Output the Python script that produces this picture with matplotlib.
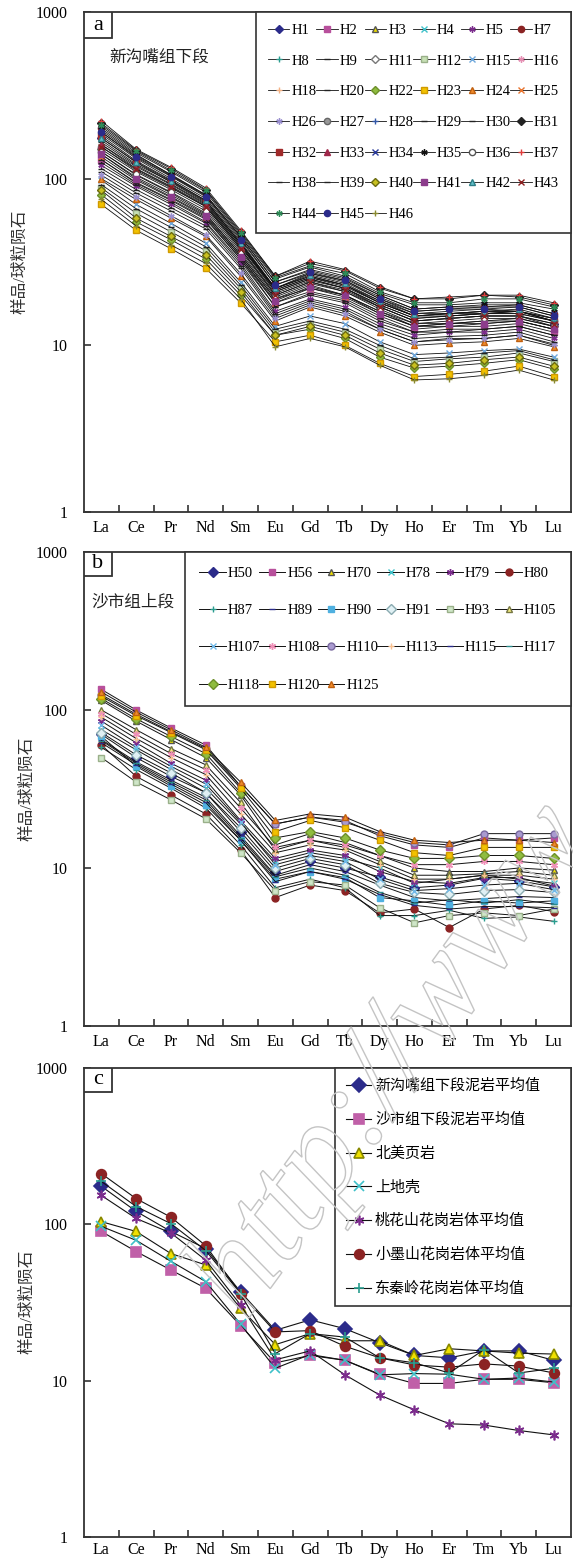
import numpy as np
import matplotlib
matplotlib.use('Agg')
import matplotlib.pyplot as plt
from matplotlib.patches import Rectangle, PathPatch
from matplotlib.textpath import TextPath
from matplotlib.font_manager import FontProperties
from matplotlib.transforms import Affine2D
from matplotlib.ticker import NullLocator

plt.rcParams['font.family'] = ['Liberation Serif', 'Noto Sans CJK SC']

# REE order on the x axis
ree = ['La', 'Ce', 'Pr', 'Nd', 'Sm', 'Eu', 'Gd', 'Tb', 'Dy', 'Ho', 'Er', 'Tm', 'Yb', 'Lu']

# ---------------- panel a : 新沟嘴组下段 ----------------
names_a = ['H1', 'H2', 'H3', 'H4', 'H5', 'H7', 'H8', 'H9', 'H11', 'H12', 'H15', 'H16',
           'H18', 'H20', 'H22', 'H23', 'H24', 'H25', 'H26', 'H27', 'H28', 'H29', 'H30', 'H31',
           'H32', 'H33', 'H34', 'H35', 'H36', 'H37', 'H38', 'H39', 'H40', 'H41', 'H42', 'H43',
           'H44', 'H45', 'H46']
vals_a = [
    [175, 125, 95, 72, 40, 21, 25, 22, 17, 14, 14.5, 15, 15, 13.5],
    [130, 95, 75, 58, 33, 18, 21, 19, 15, 12.5, 13, 13, 13.5, 12],
    [160, 118, 92, 70, 39, 22, 27, 24, 19, 15.5, 16, 16.5, 16, 14.5],
    [145, 105, 82, 62, 35, 19, 22, 20, 16, 13, 13.5, 14, 14, 12.5],
    [120, 90, 70, 54, 31, 16, 19, 17, 13.5, 11.5, 12, 12, 12.5, 11],
    [200, 140, 105, 80, 45, 24, 28, 25, 20, 16.5, 17, 17, 17.5, 15.5],
    [185, 132, 100, 76, 42, 22, 26, 23, 18, 15, 15.5, 16, 16, 14],
    [110, 82, 64, 50, 29, 15, 18, 16, 12.5, 10.5, 11, 11, 11.5, 10],
    [150, 110, 86, 66, 37, 20, 24, 21, 17, 14, 14.5, 15, 15, 13],
    [88, 62, 48, 37, 22, 12, 13.5, 12, 9.5, 8, 8.3, 8.5, 9, 8],
    [98, 70, 54, 41, 24, 13, 15, 13.5, 10.5, 8.8, 9, 9.3, 9.5, 8.5],
    [140, 102, 80, 61, 35, 19, 23, 20, 16, 13.5, 13.5, 14, 14.5, 13],
    [170, 122, 96, 73, 41, 22, 26, 23, 18.5, 15, 15.5, 16, 16, 14.5],
    [125, 92, 72, 55, 32, 17, 20, 18, 14, 12, 12, 12.5, 13, 11.5],
    [80, 55, 43, 33, 20, 11.5, 12.5, 11, 8.5, 7.3, 7.5, 7.8, 8.2, 7.2],
    [70, 49, 38, 29, 18, 10.5, 11.5, 10, 7.8, 6.5, 6.7, 7, 7.5, 6.5],
    [100, 75, 58, 45, 26, 14, 17, 15, 12, 10, 10.3, 10.5, 11, 9.8],
    [135, 98, 77, 59, 34, 18, 22, 19.5, 15.5, 13, 13, 13.5, 14, 12.5],
    [105, 78, 60, 46, 27, 14.5, 17.5, 15.5, 12.5, 10.5, 10.8, 11, 11.5, 10.2],
    [155, 112, 88, 68, 38, 20.5, 24.5, 22, 17.5, 14.5, 15, 15.5, 15.5, 14],
    [190, 136, 104, 79, 44, 23, 27, 24.5, 19.5, 16, 16.5, 17, 17, 15],
    [115, 86, 67, 52, 30, 15.5, 18.5, 16.5, 13, 11, 11.3, 11.5, 12, 10.5],
    [165, 120, 93, 71, 40, 21.5, 25.5, 23, 18, 15, 15.5, 15.5, 16, 14],
    [215, 148, 115, 86, 48, 26, 31, 28, 22, 19, 19, 20, 19.5, 17.5],
    [180, 128, 98, 74, 41, 21.5, 25.5, 22.5, 18, 15, 15, 15.5, 16, 14],
    [160, 115, 90, 69, 39, 21, 25, 22, 17.5, 14.5, 15, 15.5, 15.5, 14],
    [195, 138, 106, 80, 45, 24, 28.5, 25.5, 20, 16.5, 17, 17.5, 17.5, 15.5],
    [205, 143, 110, 83, 46, 25, 29.5, 26, 20.5, 17.5, 17.5, 18, 18, 16.5],
    [145, 106, 83, 64, 36, 19.5, 23.5, 21, 16.5, 13.5, 14, 14.5, 14.5, 13],
    [222, 150, 117, 88, 49, 26, 32, 28.5, 22.5, 19, 19.5, 20, 20, 18],
    [130, 94, 74, 57, 33, 17, 20.5, 18.5, 14.5, 12, 12.5, 12.5, 13, 11.5],
    [92, 66, 51, 39, 23, 12.5, 14, 12.5, 10, 8.3, 8.5, 9, 9.3, 8.2],
    [85, 58, 45, 35, 21, 11.5, 13, 11.5, 9, 7.6, 7.8, 8.2, 8.5, 7.5],
    [140, 100, 78, 60, 34, 18.5, 22.5, 20, 15.5, 13, 13.5, 13.5, 14, 12.5],
    [175, 126, 97, 74, 41, 22, 26.5, 23.5, 18.5, 15.5, 15.5, 16, 16.5, 14.5],
    [155, 114, 89, 68, 38, 20, 24, 21.5, 17, 14, 14.5, 15, 15, 13.5],
    [210, 146, 112, 85, 47, 25.5, 30, 27, 21, 18, 18, 19, 19, 17],
    [190, 134, 103, 78, 43, 23, 27.5, 24.5, 19, 16, 16.5, 16.5, 17, 15],
    [75, 52, 40, 31, 19, 9.8, 11, 9.8, 7.6, 6.2, 6.3, 6.6, 7.1, 6.2],
]

# ---------------- panel b : 沙市组上段 ----------------
names_b = ['H50', 'H56', 'H70', 'H78', 'H79', 'H80', 'H87', 'H89', 'H90', 'H91', 'H93', 'H105',
           'H107', 'H108', 'H110', 'H113', 'H115', 'H117', 'H118', 'H120', 'H125']
vals_b = [
    [70, 50, 38, 30, 17, 9.5, 11, 10, 8.8, 7.5, 7.8, 8.6, 8.3, 7.6],
    [135, 100, 77, 60, 33, 19, 21, 20, 16, 14, 13.5, 15.5, 15, 15.5],
    [115, 85, 65, 50, 29, 14, 16.5, 14.5, 12, 10, 9.5, 9.5, 10, 9.7],
    [75, 56, 42, 32, 19, 11, 12.5, 11.5, 10, 8, 8.5, 9, 8.5, 8],
    [85, 62, 46, 36, 20, 11.5, 13, 12, 9.5, 8.2, 8, 8.7, 8.7, 7.7],
    [60, 38, 29, 22, 13, 6.5, 7.8, 7.2, 5.2, 5.5, 4.2, 5.5, 5.8, 5.3],
    [58, 42, 32, 24, 14, 7.5, 8.5, 7.5, 5, 5, 5.4, 4.8, 4.9, 4.6],
    [65, 47, 36, 28, 16, 9, 10.5, 9.5, 7.8, 6.5, 6.2, 6.4, 6.6, 6.5],
    [68, 44, 33, 25, 15, 8.5, 9.5, 8.7, 6.5, 6.2, 5.8, 6.2, 6, 6.2],
    [72, 52, 40, 30, 18, 10, 11.5, 10.5, 8, 7, 6.8, 7.2, 7.3, 7],
    [50, 35, 27, 20.5, 12.5, 7.2, 8.2, 7.8, 5.6, 4.5, 5, 5.2, 5, 5.5],
    [100, 75, 57, 45, 26, 13, 15, 13.5, 11, 9, 9, 9.2, 9.5, 9],
    [80, 58, 44, 34, 19.5, 10.5, 12, 11, 8.5, 7.2, 7.4, 7.8, 8, 7.3],
    [95, 70, 53, 42, 24, 13.5, 15, 14, 12, 10.5, 10.5, 11, 11, 10.5],
    [125, 94, 73, 57, 33, 19, 21, 19.5, 16.5, 14.5, 14, 16.5, 16.5, 16.5],
    [90, 66, 50, 39, 22, 12.5, 14, 13, 10.5, 8.5, 8.5, 9, 9, 8.5],
    [62, 45, 34, 26, 15, 8.2, 9.5, 8.5, 6.8, 5.8, 5.5, 5.7, 5.7, 5.6],
    [64, 46, 35, 27, 15.5, 8.8, 10, 9, 7, 6, 6.3, 6, 6.3, 5.9],
    [118, 88, 68, 53, 30, 15.5, 17, 15.5, 13, 11.5, 11.5, 12, 12, 11.5],
    [122, 92, 72, 56, 32, 17, 20, 18, 15, 12.5, 12, 13.5, 13.5, 13.5],
    [130, 97, 75, 58, 35, 20, 22, 21, 17, 15, 14.5, 15, 15, 14.5],
]

# ---------------- panel c : averages and references ----------------
names_c = ['新沟嘴组下段泥岩平均值', '沙市组下段泥岩平均值', '北美页岩', '上地壳',
           '桃花山花岗岩体平均值', '小墨山花岗岩体平均值', '东秦岭花岗岩体平均值']
vals_c = [
    [175, 121, 90, 70, 37, 21, 24.5, 21.5, 17.5, 14.5, 14, 15.5, 15.5, 13.5],
    [90, 67, 51, 39, 22.5, 13, 14.5, 13.5, 11, 9.6, 9.6, 10.2, 10.2, 9.7],
    [104, 90, 65, 55, 29, 17, 20, 18, 18, 14.5, 16, 15.5, 15, 14.8],
    [97, 79, 58, 43, 23, 12, 14.7, 13.5, 10.9, 11.1, 11, 10.2, 10.4, 9.8],
    [153, 109, 88, 59, 30.5, 13.6, 15.5, 10.9, 8.1, 6.5, 5.3, 5.2, 4.8, 4.5],
    [211, 146, 111, 73, 36, 20.5, 20.9, 16.6, 14, 12.6, 12.2, 12.8, 12.4, 11.2],
    [188, 130, 101, 68, 36, 14.9, 20, 19, 14, 13, 11.2, 15.8, 11.2, 12],
]

# marker styles (Excel-like cycle): (marker, face colour, edge colour)
star = (6, 2, 0)
style_a = [
    ('D', '#2b2b8a', '#2b2b8a'), ('s', '#b8509c', '#b8509c'), ('^', '#f0e000', '#555555'),
    ('x', '#3fc1c9', '#3fc1c9'), (star, '#7b2c8c', '#7b2c8c'), ('o', '#8b2323', '#8b2323'),
    ('+', '#2a9d8f', '#2a9d8f'), ('_', '#222222', '#222222'), ('D', '#ffffff', '#777777'),
    ('s', '#c6e0b4', '#9ab08a'), ('x', '#6fa8dc', '#6fa8dc'), (star, '#e58fb3', '#e58fb3'),
    ('+', '#f4b183', '#f4b183'), ('_', '#222222', '#222222'), ('D', '#8fbc3f', '#6d8f2a'),
    ('s', '#f2c200', '#d09a00'), ('^', '#f08c2c', '#c06010'), ('x', '#e8742e', '#e8742e'),
    (star, '#9a8fcf', '#9a8fcf'), ('o', '#999999', '#666666'), ('+', '#3358a8', '#3358a8'),
    ('_', '#222222', '#222222'), ('_', '#222222', '#222222'), ('D', '#222222', '#222222'),
    ('s', '#a02a2a', '#a02a2a'), ('^', '#a0284a', '#a0284a'), ('x', '#2a3a9a', '#2a3a9a'),
    (star, '#111111', '#111111'), ('o', '#ffffff', '#555555'), ('+', '#e03c3c', '#e03c3c'),
    ('_', '#222222', '#222222'), ('_', '#222222', '#222222'), ('D', '#c8c020', '#6b6b10'),
    ('s', '#8c3c8c', '#8c3c8c'), ('^', '#5fc0c8', '#2f7f88'), ('x', '#8b2020', '#8b2020'),
    (star, '#2e8b57', '#2e8b57'), ('o', '#2b2b8a', '#2b2b8a'), ('+', '#8a8a30', '#8a8a30'),
]
style_b = [
    ('D', '#2b2b8a', '#2b2b8a'), ('s', '#b8509c', '#b8509c'), ('^', '#f0e000', '#555555'),
    ('x', '#3fc1c9', '#3fc1c9'), (star, '#7b2c8c', '#7b2c8c'), ('o', '#8b2323', '#8b2323'),
    ('+', '#2a9d8f', '#2a9d8f'), ('_', '#2b2b8a', '#2b2b8a'), ('s', '#4fb0e0', '#4fb0e0'),
    ('D', '#e0f0f4', '#8aaab0'), ('s', '#cfe6c8', '#9ab08a'), ('^', '#f4ee80', '#777744'),
    ('x', '#6fb8e8', '#6fb8e8'), (star, '#f090b8', '#f090b8'), ('o', '#a99ad0', '#7a6aa0'),
    ('+', '#f8c090', '#f8c090'), ('_', '#2b2b8a', '#2b2b8a'), ('_', '#2a8a8a', '#2a8a8a'),
    ('D', '#8fbc3f', '#6d8f2a'), ('s', '#f2c200', '#d09a00'), ('^', '#f08c2c', '#c06010'),
]
style_c = [
    ('D', '#2b2b8a', '#2b2b8a'), ('s', '#c060a8', '#c060a8'), ('^', '#f0e000', '#888800'),
    ('x', '#3fc1c9', '#3fc1c9'), (star, '#7b2c8c', '#7b2c8c'), ('o', '#8b2323', '#8b2323'),
    ('+', '#2a9d8f', '#2a9d8f'),
]

W, H = 573, 1562
fig = plt.figure(figsize=(W / 100, H / 100), dpi=100)


def px_axes(left, top, right, bottom):
    # axes rectangle given in image pixels
    return fig.add_axes([left / W, 1 - bottom / H, (right - left) / W, (bottom - top) / H])


def setup_axes(ax, xpad=6):
    ax.set_yscale('log')
    ax.set_ylim(1, 1000)
    ax.set_xlim(-0.5, 13.5)
    ax.set_yticks([1, 10, 100, 1000])
    ax.set_yticklabels(['1', '10', '100', '1000'])
    ax.yaxis.set_minor_locator(NullLocator())
    ax.set_xticks(range(len(ree)))
    ax.set_xticklabels(ree)
    ax.set_xticks(np.arange(0.5, 13, 1), minor=True)
    ax.tick_params(axis='x', which='major', length=0, pad=xpad, labelsize=11.5)
    ax.tick_params(axis='x', which='minor', direction='in', length=5, width=1.2, color='#333333')
    ax.tick_params(axis='y', which='major', direction='in', length=5, width=1.2,
                   color='#333333', pad=12, labelsize=11.5)
    for s in ax.spines.values():
        s.set_linewidth(1.3)
        s.set_edgecolor('#333333')


def draw_series(ax, vals, names, styles, ms, lw, mew):
    handles = []
    for v, nm, (mk, fc, ec) in zip(vals, names, styles):
        line, = ax.plot(range(len(ree)), v, color='#111111', lw=lw, marker=mk,
                        markerfacecolor=fc, markeredgecolor=ec, markersize=ms,
                        markeredgewidth=mew, label=nm)
        handles.append(line)
    return handles


def row_major(handles, ncol):
    # matplotlib fills legends column by column; reorder so entries read across rows
    n = len(handles)
    nrow = int(np.ceil(n / ncol))
    order = [r * ncol + c for c in range(ncol) for r in range(nrow) if r * ncol + c < n]
    return [handles[i] for i in order]


def letter_box(ax, letter, wpx, hpx, axw, axh):
    ax.add_patch(Rectangle((0, 1), wpx / axw, -hpx / axh, transform=ax.transAxes,
                           facecolor='white', edgecolor='#333333', lw=1.3, zorder=6))
    ax.text(wpx / 2 / axw, 1 - hpx / 2 / axh, letter, transform=ax.transAxes,
            ha='center', va='center', fontsize=16, zorder=7)


def frame(leg):
    leg.get_frame().set_edgecolor('#333333')
    leg.get_frame().set_linewidth(1.2)


# panel a
ax1 = px_axes(84, 12, 571, 512)
setup_axes(ax1)
h1 = draw_series(ax1, vals_a, names_a, style_a, ms=4.5, lw=0.6, mew=1.0)
leg = ax1.legend(handles=row_major(h1, 6), ncol=6, loc='upper left',
                 bbox_to_anchor=(0.353, 0, 0.647, 1.0), mode='expand', borderaxespad=0,
                 fontsize=10.5, handlelength=1.5, handletextpad=0.15, columnspacing=0.3,
                 labelspacing=1.2, borderpad=0.8, numpoints=1, fancybox=False, framealpha=1)
frame(leg)
letter_box(ax1, 'a', 28, 26, 487, 500)
ax1.text(0.053, 0.908, '新沟嘴组下段', transform=ax1.transAxes, fontsize=12, va='center',
         color='#222222')
fig.text(20 / W, 1 - 262 / H, '样品/球粒陨石', rotation=90, ha='center', va='center',
         fontsize=12, color='#333333')

# panel b
ax2 = px_axes(84, 552, 571, 1026)
setup_axes(ax2)
h2 = draw_series(ax2, vals_b, names_b, style_b, ms=5, lw=0.7, mew=1.0)
leg = ax2.legend(handles=row_major(h2, 6), ncol=6, loc='upper left',
                 bbox_to_anchor=(0.207, 0, 0.793, 1.0), mode='expand', borderaxespad=0,
                 fontsize=10.5, handlelength=1.8, handletextpad=0.15, columnspacing=0.3,
                 labelspacing=1.65, borderpad=1.0, numpoints=1, fancybox=False, framealpha=1)
frame(leg)
letter_box(ax2, 'b', 28, 24, 487, 474)
ax2.text(0.016, 0.894, '沙市组上段', transform=ax2.transAxes, fontsize=12, va='center',
         color='#222222')
fig.text(27 / W, 1 - 789 / H, '样品/球粒陨石', rotation=90, ha='center', va='center',
         fontsize=12, color='#333333')

# panel c
ax3 = px_axes(84, 1068, 571, 1537)
setup_axes(ax3, xpad=3.5)
h3 = draw_series(ax3, vals_c, names_c, style_c, ms=7, lw=0.8, mew=1.2)
leg = ax3.legend(handles=h3, ncol=1, loc='upper left',
                 bbox_to_anchor=(0.516, 0, 0.484, 1.0), mode='expand', borderaxespad=0,
                 fontsize=10.8, handlelength=1.7, handletextpad=0.25,
                 labelspacing=1.3, borderpad=0.7, numpoints=1, fancybox=False, framealpha=1)
frame(leg)
letter_box(ax3, 'c', 28, 24, 487, 469)
fig.text(27 / W, 1 - 1302 / H, '样品/球粒陨石', rotation=90, ha='center', va='center',
         fontsize=12, color='#333333')

# faint outlined watermark running across panels b and c
wm = TextPath((0, 0), 'http://www', size=134,
              prop=FontProperties(family='Liberation Serif', style='italic'))
wm_tr = Affine2D().rotate_deg(54).translate(246, H - 1322)
fig.add_artist(PathPatch(wm, transform=wm_tr, facecolor='none', edgecolor='#c4c4c4',
                         lw=1.0, zorder=20))

fig.savefig('out.png', dpi=100)
